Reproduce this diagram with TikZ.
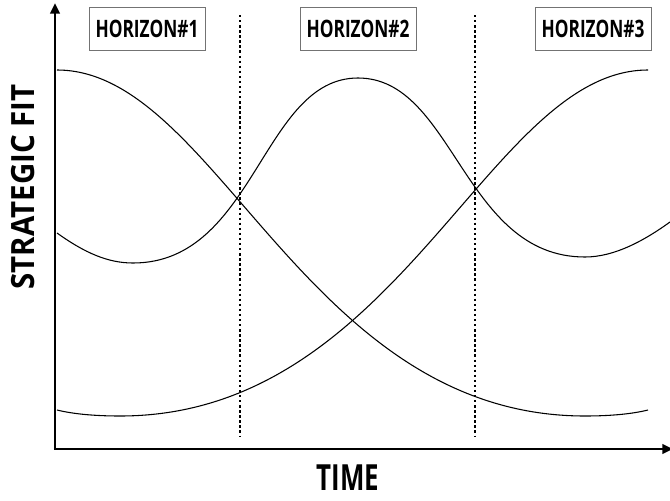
\documentclass[tikz,border=0pt]{standalone}
\usepackage{fontspec}
\setmainfont{Open Sans}
\newfontfamily\lblfont[FakeStretch=0.72]{Open Sans}
\newfontfamily\ylblfont[FakeStretch=0.92]{Open Sans}
\usepackage{tikz}
\usetikzlibrary{positioning,arrows.meta,calc}
\tikzset{
  horizon/.style={rectangle, draw=black!55, line width=0.6pt, fill=white,
                  minimum width=87pt, minimum height=32pt, inner sep=0pt,
                  font=\lblfont\bfseries\fontsize{18}{20}\selectfont},
  axis/.style={line width=2.2pt, -{Triangle[length=8pt,width=7pt]}},
  fitline/.style={line width=0.8pt},
  divider/.style={line width=1.8pt, dotted},
  axlbl/.style={inner sep=0pt},
}
\begin{document}
\begin{tikzpicture}[x=0.75pt, y=-0.75pt]
  \useasboundingbox (0,0) rectangle (670,500);

  % ===== Axes ==========================================================
  \coordinate (O) at (55,449);
  \coordinate (ytop) at (55,3);
  \coordinate (xend) at (673,449);
  \draw[axis] (O) -- (ytop);
  \draw[axis] ($(O)+(-1.1,0)$) -- (xend);
  \node[axlbl, rotate=90, font=\ylblfont\bfseries\fontsize{24}{26}\selectfont]
       (ylab) at (23,187) {STRATEGIC FIT};
  \node[axlbl, font=\lblfont\bfseries\fontsize{27}{29}\selectfont]
       (xlab) at (348,478) {TIME};

  % ===== Horizon dividers ==============================================
  \coordinate (d1top) at (240,15);
  \coordinate (d1bot) at (240,436);
  \coordinate (d2top) at (475,15);
  \coordinate (d2bot) at (475,436);
  \draw[divider] (d1top) -- (d1bot);
  \draw[divider] (d2top) -- (d2bot);

  % ===== Horizon labels ================================================
  \node[horizon] (h1) at (147,29) {HORIZON\#1};
  \node[horizon] (h2) at (358,29) {HORIZON\#2};
  \node[horizon] (h3) at (593,29) {HORIZON\#3};

  % ===== Strategic fit curves ==========================================
  % falling one
  \draw[fitline] (57,70) .. controls (217,70) and (305,416) .. (585,416)
       .. controls (610,416) and (632,414) .. (648,410);
  % rising one
  \draw[fitline] (57,410) .. controls (73,414) and (95,416) .. (120,416)
       .. controls (400,416) and (488,70) .. (648,70);
  % middle one, peaking in horizon 2
  \draw[fitline] (57,233) .. controls (85,253) and (108,263) .. (133,263)
       .. controls (255,263) and (262,78) .. (358,78)
       .. controls (454,78) and (463,257) .. (585,257)
       .. controls (615,257) and (645,240) .. (670,222);
\end{tikzpicture}
\end{document}
